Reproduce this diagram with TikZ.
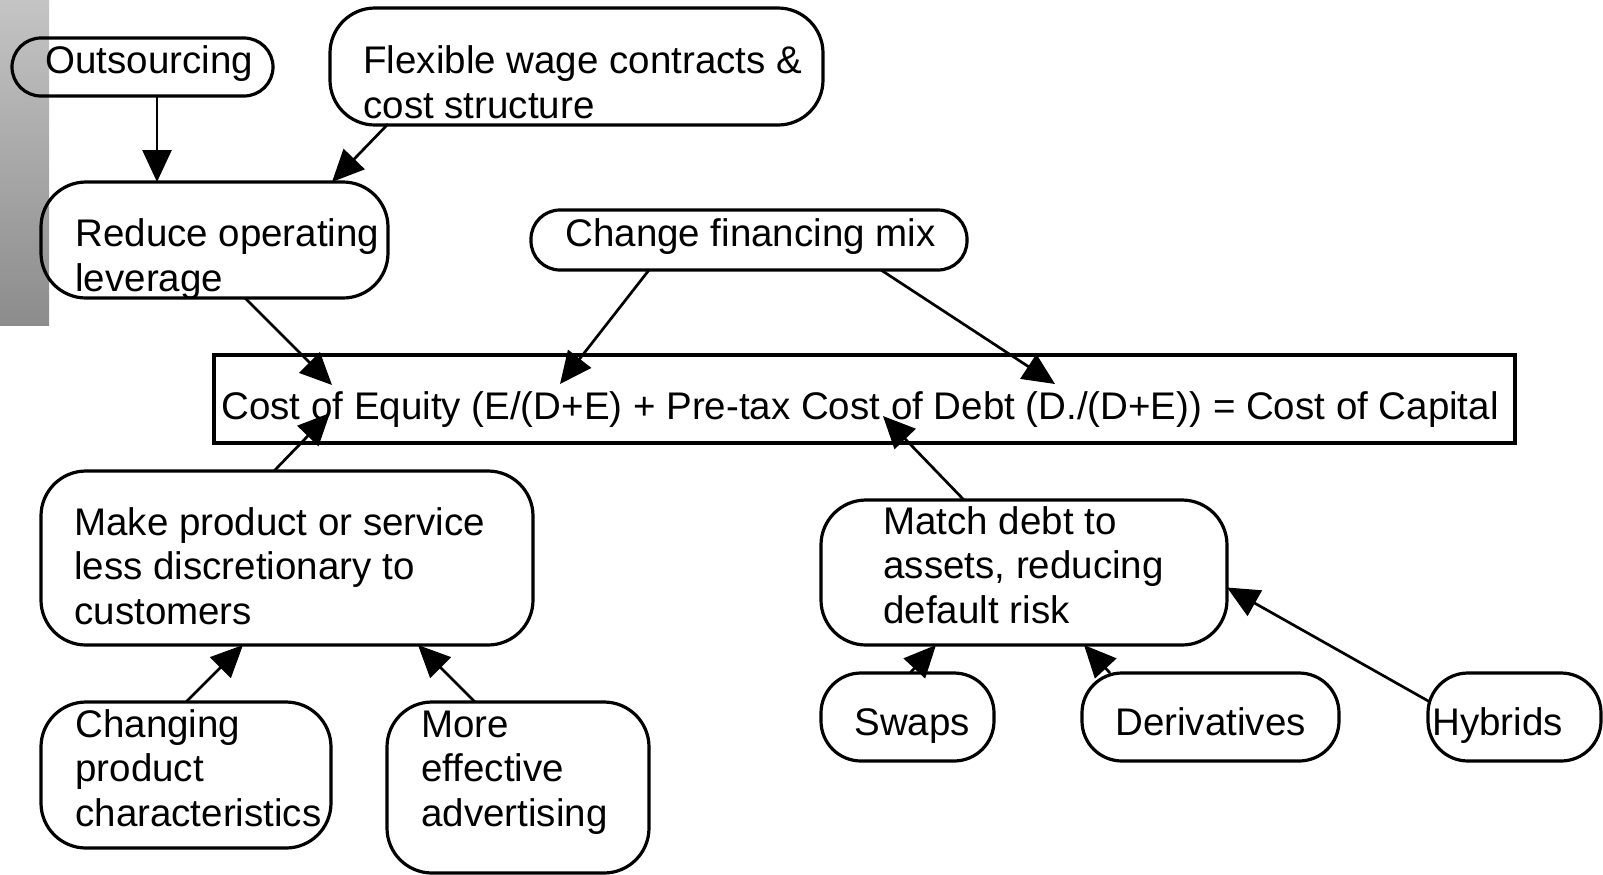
\documentclass[tikz,border=0pt]{standalone}
\usepackage{fontspec}
\setmainfont{Liberation Sans}
\usetikzlibrary{positioning, calc, arrows.meta}
\definecolor{barTop}{HTML}{C4C4C4}
\definecolor{barBottom}{HTML}{8C8C8C}

\begin{document}
\begin{tikzpicture}[
  x=0.5pt, y=-0.5pt,
  bubble/.style={rectangle, draw=black, line width=1.6pt, rounded corners=22.5pt, anchor=north west, inner sep=0pt, outer sep=0pt},
  pillbox/.style={bubble, rounded corners=14.5pt},
  smallbox/.style={bubble, rounded corners=20pt},
  eqbox/.style={rectangle, draw=black, line width=1.6pt, anchor=north west, inner sep=0pt, outer sep=0pt},
  dims/.style 2 args={minimum width=#1*0.5pt, minimum height=#2*0.5pt},
  txt/.style={anchor=base west, align=left, inner sep=0pt, font=\fontsize{19.25pt}{22.25pt}\selectfont},
  line/.style={line width=1.35pt, -{Triangle[length=16pt, width=14.5pt]}}
]
\useasboundingbox (0,0) rectangle (1603,874);

% Grey bar at the left edge
\shade[top color=barTop, bottom color=barBottom] (0,0) rectangle (49,325);

% Boxes placed at coordinates
\node[pillbox, dims={261}{58}] (outs) at (12,38) {};
\node[bubble, dims={493}{117}] (flex) at (330,8) {};
\node[bubble, dims={347}{116}] (reduce) at (41,182) {};
\node[pillbox, dims={436}{60}] (mix) at (531,210) {};
\node[eqbox, dims={1301}{88}] (wacc) at (214,355) {};
\node[bubble, dims={492}{174}] (product) at (41,471) {};
\node[bubble, dims={290}{146}] (chars) at (41,702) {};
\node[bubble, dims={262}{171}] (advert) at (387,702) {};
\node[bubble, dims={406}{145}] (match) at (821,500) {};
\node[smallbox, dims={173}{88}] (swaps) at (821,673) {};
\node[smallbox, dims={257}{88}] (deriv) at (1082,673) {};
\node[smallbox, dims={173}{88}] (hybrid) at (1428,673) {};

% Texts (placed at the baseline of their last line)
\node[txt] (outs-t) at (45,73) {Outsourcing};
\node[txt] (flex-t) at (363,118) {Flexible wage contracts \&\\cost structure};
\node[txt] (reduce-t) at (75,291) {Reduce operating\\leverage};
\node[txt] (mix-t) at (565,246) {Change financing mix};
\node[txt] (wacc-t) at (221,419) {Cost of Equity (E/(D+E) + Pre-tax Cost of Debt (D./(D+E)) = Cost of Capital};
\node[txt] (product-t) at (74,624) {Make product or service\\less discretionary to\\customers};
\node[txt] (chars-t) at (75,826) {Changing\\product\\characteristics};
\node[txt] (advert-t) at (421,826) {More\\effective\\advertising};
\node[txt] (match-t) at (883,623) {Match debt to\\assets, reducing\\default risk};
\node[txt] (swaps-t) at (854,735) {Swaps};
\node[txt] (deriv-t) at (1115,735) {Derivatives};
\node[txt] (hybrid-t) at (1432,735) {Hybrids};

% Arrows
\draw[line] ($(outs.south west)+(145,0)$) -- ($(reduce.north west)+(116,0)$);
\draw[line] ($(flex.south west)+(58,-1)$) -- ($(reduce.north west)+(291,0)$);
\draw[line] ($(reduce.south west)+(204,0)$) -- ($(wacc.north west)+(118,30)$);
\draw[line] ($(mix.south west)+(118,0)$) -- ($(wacc.north west)+(346,29)$);
\draw[line] ($(mix.south west)+(350,0)$) -- ($(wacc.north west)+(841,29)$);
\draw[line] ($(product.north west)+(233,0)$) -- ($(wacc.south west)+(116,-30)$);
\draw[line] ($(chars.north west)+(145,0)$) -- ($(product.south west)+(202,0)$);
\draw[line] ($(advert.north west)+(88,0)$) -- ($(product.south west)+(377,0)$);
\draw[line] ($(match.north west)+(143,0)$) -- ($(wacc.south west)+(669,-27)$);
\draw[line] ($(swaps.north west)+(89,0)$) -- ($(match.south west)+(115,0)$);
\draw[line] ($(deriv.north west)+(28,0)$) -- ($(match.south west)+(263,0)$);
\draw[line] ($(hybrid.west)+(2,-15)$) -- ($(match.east)+(0,15)$);

\end{tikzpicture}
\end{document}
